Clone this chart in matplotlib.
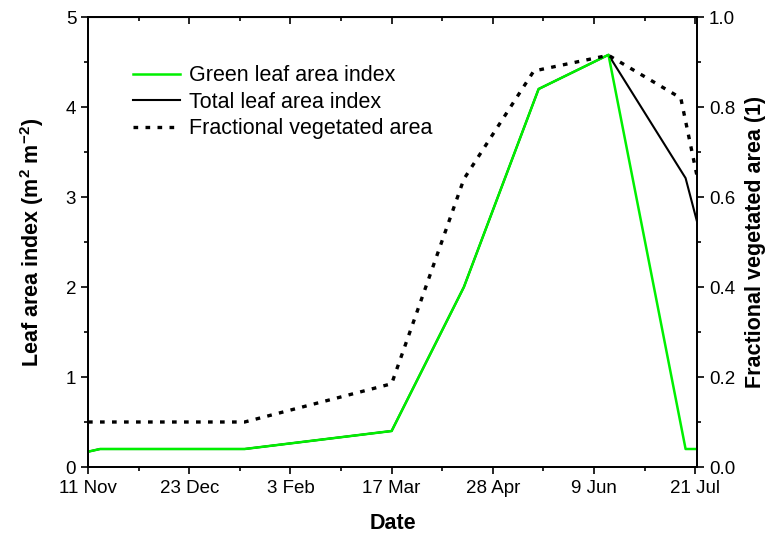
import numpy as np
import pandas as pd
import matplotlib
matplotlib.use('Agg')
import matplotlib.pyplot as plt
from matplotlib.ticker import MultipleLocator

plt.rcParams['font.family'] = ['Liberation Sans', 'DejaVu Sans']
plt.rcParams['mathtext.fontset'] = 'custom'
plt.rcParams['mathtext.rm'] = 'Liberation Sans'
plt.rcParams['mathtext.bf'] = 'Liberation Sans:bold'

# leaf area index (m2 m-2)
lai_dates = pd.to_datetime(['2006-11-11', '2006-11-16', '2007-01-15', '2007-03-17',
                            '2007-04-16', '2007-05-17', '2007-06-15', '2007-07-17',
                            '2007-07-22'])
green_lai = [0.17, 0.2, 0.2, 0.4, 2.0, 4.2, 4.58, 0.2, 0.2]
total_lai = [0.17, 0.2, 0.2, 0.4, 2.0, 4.2, 4.58, 3.21, 2.7]

# fractional vegetated area (1)
fva_dates = pd.to_datetime(['2006-11-11', '2007-01-15', '2007-03-17', '2007-04-16',
                            '2007-05-15', '2007-06-15', '2007-07-15', '2007-07-22'])
fva = [0.1, 0.1, 0.185, 0.64, 0.88, 0.915, 0.82, 0.64]

tick_dates = pd.date_range('2006-11-11', '2007-07-21', freq='42D')
tick_labels = ['11 Nov', '23 Dec', '3 Feb', '17 Mar', '28 Apr', '9 Jun', '21 Jul']
minor_dates = tick_dates[:-1] + pd.Timedelta(days=21)

fig = plt.figure(figsize=(7.68, 5.35), dpi=100)
ax = fig.add_axes([0.1146, 0.1271, 0.7930, 0.8411])
ax2 = ax.twinx()

ax.plot(lai_dates, total_lai, color='black', linewidth=1.5, label='Total leaf area index', zorder=2)
ax.plot(lai_dates, green_lai, color='#00f000', linewidth=1.8, label='Green leaf area index', zorder=3)
ax2.plot(fva_dates, fva, color='black', linewidth=2.4, linestyle=(0, (1.4, 2.2)),
         label='Fractional vegetated area')

ax.set_xticks(tick_dates)
ax.set_xticklabels(tick_labels)
ax.set_xticks(minor_dates, minor=True)
ax.set_xlim(pd.Timestamp('2006-11-11'), pd.Timestamp('2007-07-21 18:00'))
ax.set_ylim(0, 5)
ax2.set_ylim(0, 1.0)

ax.yaxis.set_major_locator(MultipleLocator(1))
ax.yaxis.set_minor_locator(MultipleLocator(0.5))
ax2.yaxis.set_minor_locator(MultipleLocator(0.1))
ax2.set_yticks(np.arange(0, 1.01, 0.2))
ax2.set_yticklabels([f'{v:.1f}' for v in np.arange(0, 1.01, 0.2)])

ax.tick_params(which='both', direction='out', labelsize=13.5, width=1.2)
ax.tick_params(which='major', length=5)
ax.tick_params(which='minor', length=3)
ax.tick_params(axis='x', pad=4)
ax2.tick_params(which='both', direction='out', labelsize=13.5, width=1.2)
ax2.tick_params(which='major', length=5)
ax2.tick_params(which='minor', length=3)
for a in (ax, ax2):
    for s in a.spines.values():
        s.set_linewidth(1.3)

# top ticks point inward
sec = ax.secondary_xaxis('top')
sec.set_xticks(tick_dates)
sec.set_xticks(minor_dates, minor=True)
sec.tick_params(which='major', direction='in', length=5, width=1.2, labeltop=False)
sec.tick_params(which='minor', direction='in', length=3, width=1.2)
sec.set_xticklabels([])

ax.set_xlabel('Date', fontsize=15.5, fontweight='bold', labelpad=12)
ax.set_ylabel(r'Leaf area index (m$^{\mathbf{2}}$ m$^{\mathbf{-2}}$)', fontsize=15.5,
              fontweight='bold', labelpad=14)
ax2.set_ylabel('Fractional vegetated area (1)', fontsize=15.5, fontweight='bold', labelpad=7)

h1, l1 = ax.get_legend_handles_labels()
h2, l2 = ax2.get_legend_handles_labels()
handles = [h1[1], h1[0], h2[0]]
labels = [l1[1], l1[0], l2[0]]
ax.legend(handles, labels, loc='upper left', bbox_to_anchor=(0.074, 0.893), frameon=False,
          fontsize=15.5, handlelength=2.2, handletextpad=0.38, labelspacing=0.26,
          borderpad=0, borderaxespad=0)

fig.savefig('out.png', dpi=100)
